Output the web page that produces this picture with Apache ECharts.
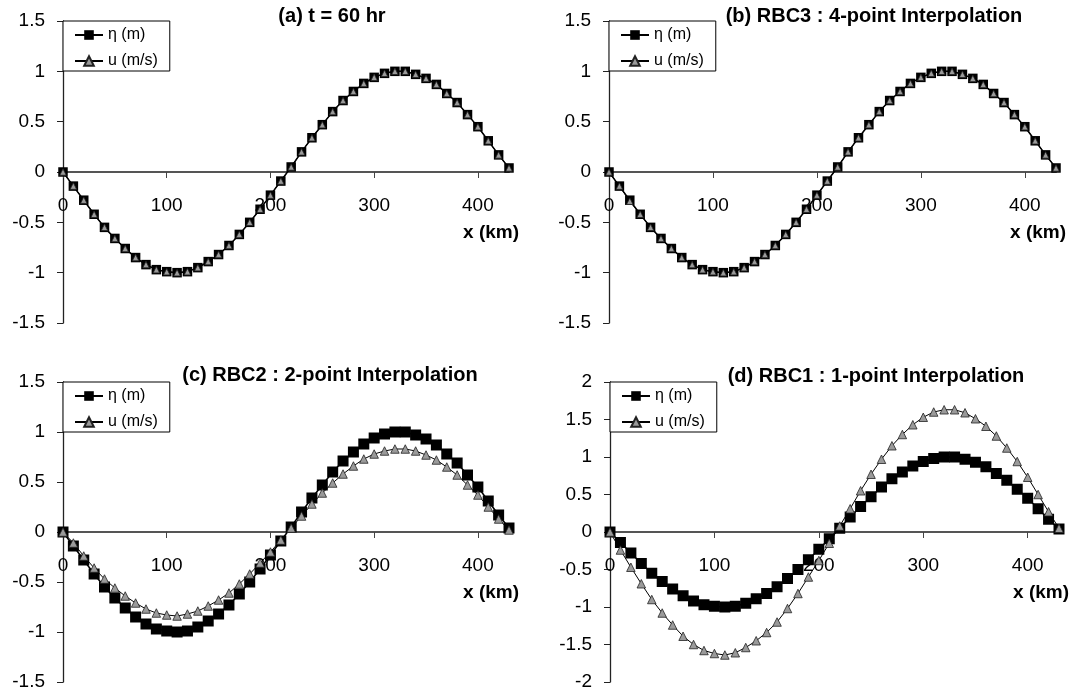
<!DOCTYPE html>
<html>
<head>
<meta charset="utf-8">
<script src="https://cdn.jsdelivr.net/npm/echarts@6/dist/echarts.min.js"></script>
<style>
  html, body { margin: 0; padding: 0; background: #fff; }
  #chart { width: 1072px; height: 697px; }
</style>
</head>
<body>
<div id="chart"></div>
<script>
// x positions of the stations (km)
const xKm = [0, 10, 20, 30, 40, 50, 60, 70, 80, 90, 100, 110, 120, 130, 140, 150, 160, 170, 180, 190,
  200, 210, 220, 230, 240, 250, 260, 270, 280, 290, 300, 310, 320, 330, 340, 350, 360, 370, 380, 390,
  400, 410, 420, 430];

// eta (m) (same curve in all four panels)
const eta = [0, -0.14, -0.28, -0.42, -0.55, -0.66, -0.76, -0.85, -0.92, -0.97, -0.99, -1.0, -0.99, -0.95,
  -0.89, -0.82, -0.73, -0.62, -0.5, -0.37, -0.23, -0.09, 0.05, 0.2, 0.34, 0.47, 0.6, 0.71, 0.8, 0.88,
  0.94, 0.98, 1.0, 1.0, 0.97, 0.93, 0.87, 0.78, 0.69, 0.57, 0.45, 0.31, 0.17, 0.04];

// u (m/s) per panel
const uExact = [0, -0.14, -0.28, -0.42, -0.55, -0.66, -0.76, -0.85, -0.92, -0.97, -0.99, -1.0, -0.99, -0.95,
  -0.89, -0.82, -0.73, -0.62, -0.5, -0.37, -0.23, -0.09, 0.05, 0.2, 0.34, 0.47, 0.6, 0.71, 0.8, 0.88,
  0.94, 0.98, 1.0, 1.0, 0.97, 0.93, 0.87, 0.78, 0.69, 0.57, 0.45, 0.31, 0.17, 0.04];
const uRBC3 = [0, -0.14, -0.29, -0.42, -0.55, -0.66, -0.76, -0.85, -0.92, -0.97, -0.99, -1.0, -0.99, -0.95,
  -0.89, -0.82, -0.73, -0.62, -0.5, -0.37, -0.23, -0.09, 0.05, 0.2, 0.34, 0.47, 0.6, 0.71, 0.8, 0.88,
  0.94, 0.98, 1.0, 1.0, 0.97, 0.93, 0.87, 0.78, 0.69, 0.57, 0.45, 0.31, 0.17, 0.04];
const uRBC2 = [0, -0.11, -0.24, -0.36, -0.47, -0.56, -0.64, -0.71, -0.77, -0.81, -0.83, -0.84, -0.82, -0.79,
  -0.74, -0.68, -0.61, -0.52, -0.42, -0.31, -0.2, -0.08, 0.04, 0.16, 0.28, 0.39, 0.49, 0.58, 0.66, 0.73,
  0.78, 0.81, 0.83, 0.83, 0.81, 0.77, 0.72, 0.65, 0.57, 0.47, 0.37, 0.25, 0.13, 0.02];
const uRBC1 = [0, -0.24, -0.47, -0.69, -0.9, -1.08, -1.24, -1.39, -1.5, -1.58, -1.62, -1.64, -1.61, -1.54,
  -1.45, -1.34, -1.2, -1.02, -0.82, -0.6, -0.38, -0.15, 0.08, 0.31, 0.55, 0.77, 0.97, 1.15, 1.3, 1.43,
  1.53, 1.6, 1.63, 1.63, 1.59, 1.51, 1.41, 1.28, 1.12, 0.94, 0.73, 0.5, 0.27, 0.05];

const titles = ['(a) t = 60 hr', '(b) RBC3 : 4-point Interpolation',
  '(c) RBC2 : 2-point Interpolation', '(d) RBC1 : 1-point Interpolation'];
const uSeries = [uExact, uRBC3, uRBC2, uRBC1];
const yLimits = [[-1.5, 1.5], [-1.5, 1.5], [-1.5, 1.5], [-2, 2]];
const etaName = 'η (m)';
const uName = 'u (m/s)';

const font = '"Liberation Sans", Arial, sans-serif';

// layout of the four panels (xOffset lifts the x axis up to y = 0)
const layout = [
  { grid: { left: 63, top: 21, width: 446, height: 302 }, xOffset: -151, titleX: 332, titleY: 6, big: false },
  { grid: { left: 609, top: 21, width: 447, height: 302 }, xOffset: -151, titleX: 874, titleY: 6, big: false },
  { grid: { left: 63, top: 382, width: 446, height: 300 }, xOffset: -150, titleX: 330, titleY: 365, big: true },
  { grid: { left: 610, top: 382, width: 449, height: 300 }, xOffset: -150, titleX: 876, titleY: 366, big: true }
];

const myChart = echarts.init(document.getElementById('chart'));

const grids = [], xAxes = [], yAxes = [], series = [], legends = [], titleList = [];

layout.forEach((p, i) => {
  grids.push(Object.assign({ containLabel: false, outerBoundsMode: 'none' }, p.grid));

  titleList.push({
    text: titles[i],
    left: p.titleX,
    top: p.titleY,
    textAlign: 'center',
    padding: 0,
    textStyle: { fontFamily: font, fontSize: 20, fontWeight: 'bold', color: '#000' }
  });

  legends.push({
    data: [etaName, uName],
    orient: 'vertical',
    left: p.grid.left,
    top: p.grid.top,
    padding: [6, 12, 2, 11],
    itemGap: 10,
    itemWidth: 28,
    itemHeight: 12,
    borderColor: '#000',
    borderWidth: 1,
    backgroundColor: '#fff',
    selectedMode: false,
    textStyle: { fontFamily: font, fontSize: 16, color: '#000' }
  });

  xAxes.push({
    type: 'value',
    gridIndex: i,
    position: 'bottom',
    offset: p.xOffset,
    min: 0,
    max: 430,
    interval: 100,
    name: 'x (km)',
    nameLocation: 'end',
    nameGap: 10,
    nameTextStyle: {
      fontFamily: font, fontSize: 19, fontWeight: 'bold', color: '#000',
      align: 'right', verticalAlign: 'top', padding: [51, 0, 0, 0]
    },
    axisLine: { onZero: false, lineStyle: { color: '#555', width: 2 } },
    axisTick: { show: true, inside: false, length: 6, lineStyle: { color: '#444', width: 1 } },
    axisLabel: { margin: 24, showMaxLabel: false, fontFamily: font, fontSize: 19, color: '#000' },
    splitLine: { show: false }
  });

  yAxes.push({
    type: 'value',
    gridIndex: i,
    min: yLimits[i][0],
    max: yLimits[i][1],
    interval: 0.5,
    axisLine: { show: true, onZero: false, lineStyle: { color: '#222', width: 1.3 } },
    axisTick: { show: true, inside: false, length: 6, lineStyle: { color: '#222', width: 1 } },
    axisLabel: { margin: 18, fontFamily: font, fontSize: 19, color: '#000' },
    splitLine: { show: false }
  });

  series.push({
    name: etaName,
    type: 'line',
    xAxisIndex: i,
    yAxisIndex: i,
    data: xKm.map((x, k) => [x, eta[k]]),
    symbol: 'rect',
    symbolSize: p.big ? 11 : 9.5,
    showAllSymbol: true,
    itemStyle: { color: '#000' },
    lineStyle: { color: '#000', width: 1.5 },
    silent: true,
    z: 3
  });

  series.push({
    name: uName,
    type: 'line',
    xAxisIndex: i,
    yAxisIndex: i,
    data: xKm.map((x, k) => [x, uSeries[i][k]]),
    symbol: 'triangle',
    symbolSize: p.big ? 8.5 : 6.5,
    showAllSymbol: true,
    itemStyle: { color: '#9a9a9a', borderColor: '#222', borderWidth: 0.8 },
    lineStyle: { color: '#000', width: 1 },
    silent: true,
    z: 4
  });
});

const option = {
  animation: false,
  backgroundColor: '#fff',
  title: titleList,
  legend: legends,
  grid: grids,
  xAxis: xAxes,
  yAxis: yAxes,
  series: series
};

myChart.setOption(option);
</script>
</body>
</html>
